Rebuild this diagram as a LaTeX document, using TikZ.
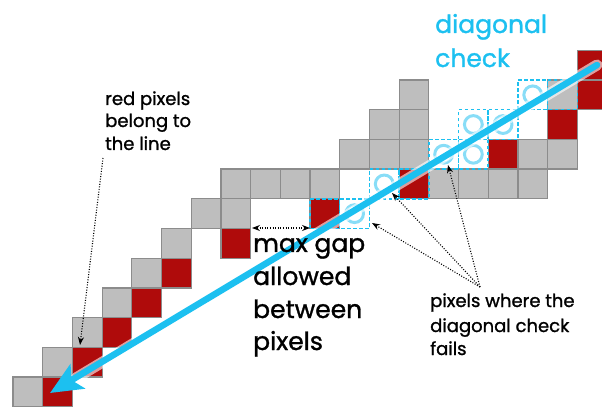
\documentclass[tikz,border=0pt]{standalone}
\usepackage{fontspec}
\setmainfont{Poppins}[FakeBold=1.2]
\usetikzlibrary{arrows.meta}
\definecolor{skyline}{HTML}{1CC0F0}
\definecolor{ringblue}{HTML}{88DDF7}
\definecolor{cellgray}{HTML}{BEBEBE}
\definecolor{edgegray}{HTML}{8C8C8C}
\definecolor{pixred}{HTML}{AF0B0B}
\tikzset{
  graycell/.style={fill=cellgray, draw=edgegray, line width=1.2pt},
  redcell/.style={fill=pixred, draw=edgegray, line width=1.2pt},
  checkcell/.style={draw=skyline, line width=1.5pt, dash pattern=on 3.5pt off 2.5pt},
  ring/.style={draw=ringblue, line width=3pt},
  bigtext/.style={anchor=base west, inner sep=0pt, font=\fontsize{25}{30}\selectfont},
  smalltext/.style={anchor=base west, inner sep=0pt, font=\fontsize{18}{21}\selectfont},
  pointer/.style={line width=1.1pt, dash pattern=on 1pt off 1.6pt, -{Stealth[length=8pt,width=6pt]}},
}
\begin{document}
\begin{tikzpicture}[x=1pt,y=1pt]
\useasboundingbox (0,0) rectangle (602,410);
\clip (0,0) rectangle (602,410);

% pixel grid: one unit = one pixel cell
\begin{scope}[shift={(13pt,3.3pt)}, x=29.7pt, y=29.7pt]
  \foreach \c/\r in {0/0,1/1,2/2,3/3,4/4,5/5,6/6,7/6,7/7,8/7,9/7,10/7,
                     11/8,12/8,13/8,12/9,13/9,13/10,14/7,15/7,16/7,17/7,
                     17/8,18/8,18/10}
    \draw[graycell] (\c,\r) rectangle ++(1,1);
  \foreach \c/\r in {1/0,2/1,3/2,4/3,5/4,7/5,10/6,13/7,16/8,18/9,19/10,19/11}
    \draw[redcell] (\c,\r) rectangle ++(1,1);
  \foreach \c/\r in {10/6,11/6,12/7,13/7,14/8,15/8,15/9,16/9,17/10,18/10}
    \draw[checkcell] (\c,\r) rectangle ++(1,1);
  \foreach \c/\r in {11/6,12/7,14/8,15/8,15/9,16/9,17/10}
    \draw[ring] (\c+0.5,\r+0.5) circle (0.3);
\end{scope}

% the line being tested
\coordinate (lineA) at (597,345);
\coordinate (lineB) at (50,17);
\coordinate (haloEnd) at (76,32);
\draw[white, opacity=0.6, line width=11pt, line cap=round] (lineA) -- (haloEnd);
\draw[skyline, line width=6.5pt, line cap=round,
      -{Stealth[length=32pt,width=28pt,inset=7pt]}] (lineA) -- (lineB);

% labels
\node[bigtext, text=skyline] (dc1) at (435,377) {diagonal};
\node[bigtext, text=skyline] (dc2) at (435,343) {check};

\node[bigtext] (mg1) at (253,158) {max gap};
\node[bigtext] (mg2) at (253,125) {allowed};
\node[bigtext] (mg3) at (253,92) {between};
\node[bigtext] (mg4) at (253,60) {pixels};

\node[smalltext] (rp1) at (105,305) {red pixels};
\node[smalltext] (rp2) at (105,283) {belong to};
\node[smalltext] (rp3) at (105,260) {the line};

\node[smalltext] (pf1) at (430,103) {pixels where the};
\node[smalltext] (pf2) at (430,78) {diagonal check};
\node[smalltext] (pf3) at (430,55) {fails};

% pointers
\coordinate (rpfoot) at (103,252);
\coordinate (rptip) at (80,65);
\draw[pointer] (rpfoot) -- (rptip);

\coordinate (gapL) at (252,182);
\coordinate (gapR) at (310,182);
\draw[pointer, {Stealth[length=8pt,width=6pt]}-{Stealth[length=8pt,width=6pt]}] (gapL) -- (gapR);

\coordinate (pfroot) at (480,123);
\coordinate (failA) at (372,187);
\coordinate (failB) at (392,217);
\coordinate (failC) at (448,245);
\draw[pointer] (pfroot) -- (failA);
\draw[pointer] (pfroot) -- (failB);
\draw[pointer] (pfroot) -- (failC);
\end{tikzpicture}
\end{document}
